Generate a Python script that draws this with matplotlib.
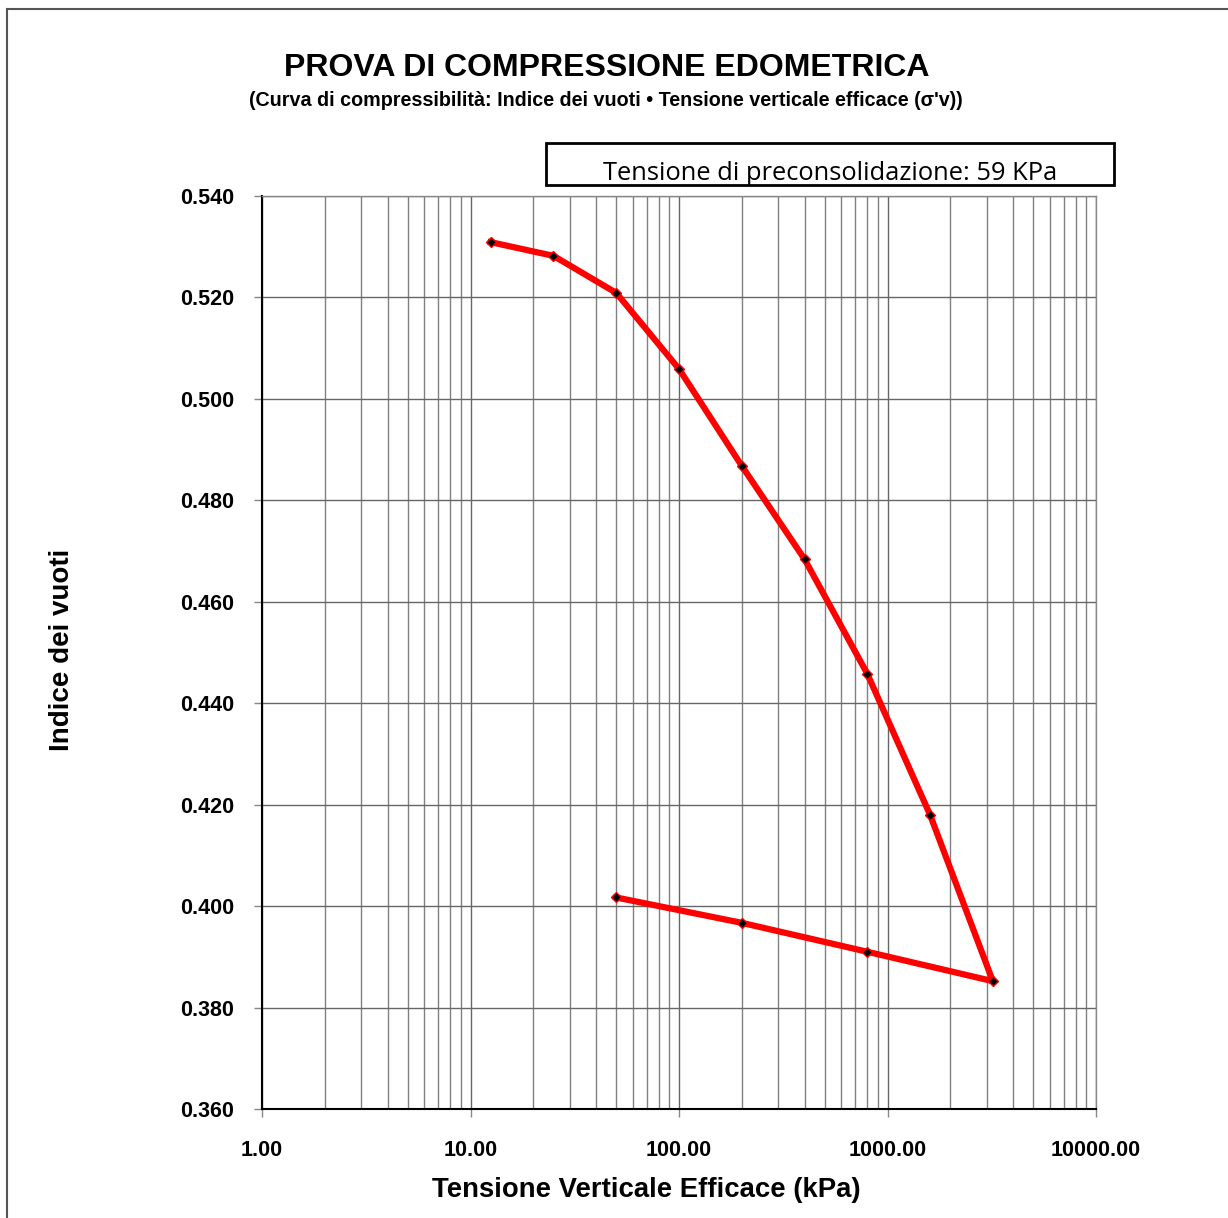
import matplotlib.pyplot as plt
from matplotlib.ticker import LogLocator, FixedLocator, NullFormatter
from matplotlib.patches import Rectangle

# loading branch then unloading branch (kPa, void ratio)
tensione = [12.5, 25, 50, 100, 200, 400, 800, 1600, 3200, 800, 200, 50]
indice_vuoti = [0.5309, 0.5282, 0.5209, 0.5059, 0.4868, 0.4684, 0.4458, 0.4180,
                0.3852, 0.3910, 0.3967, 0.4017]
y_ticks = [0.360, 0.380, 0.400, 0.420, 0.440, 0.460, 0.480, 0.500, 0.520, 0.540]
x_ticks = [1, 10, 100, 1000, 10000]
x_labels = ['1.00', '10.00', '100.00', '1000.00', '10000.00']

plt.rcParams['font.family'] = ['Liberation Sans', 'DejaVu Sans']

fig = plt.figure(figsize=(12.28, 12.18), dpi=100)
W, H = 1228, 1218
ax = fig.add_axes([262 / W, 1 - 1109 / H, (1096 - 262) / W, (1109 - 196) / H])

ax.plot(tensione, indice_vuoti, color='#ff0000', lw=4.5, marker='D', markersize=5,
        markerfacecolor='black', markeredgecolor='#ff0000', markeredgewidth=1, zorder=3)

ax.set_xscale('log')
ax.set_xlim(1, 10000)
ax.set_ylim(0.36, 0.54)
ax.xaxis.set_major_locator(FixedLocator(x_ticks))
ax.set_xticklabels(x_labels)
ax.xaxis.set_minor_locator(LogLocator(base=10, subs=range(2, 10)))
ax.xaxis.set_minor_formatter(NullFormatter())
ax.set_yticks(y_ticks)
ax.set_yticklabels([f'{v:.3f}' for v in y_ticks])

ax.grid(True, which='major', color='#666666', lw=1)
ax.grid(True, which='minor', axis='x', color='#808080', lw=1)
ax.set_axisbelow(True)
ax.tick_params(axis='both', which='major', length=6, width=1, colors='#888888',
               labelcolor='black', labelsize=15.5)
ax.tick_params(axis='x', which='major', pad=16)
ax.tick_params(axis='y', which='major', pad=14)
ax.tick_params(axis='x', which='minor', length=0)
for lab in ax.get_xticklabels() + ax.get_yticklabels():
    lab.set_fontweight('bold')
for s in ['left', 'bottom']:
    ax.spines[s].set_color('black')
    ax.spines[s].set_linewidth(1.5)
for s in ['top', 'right']:
    ax.spines[s].set_color('#888888')
    ax.spines[s].set_linewidth(1)

fig.text(62 / W, 1 - 650 / H, 'Indice dei vuoti', rotation=90, ha='center', va='center',
         fontsize=20, fontweight='bold')
fig.text(646 / W, 1 - 1190 / H, 'Tensione Verticale Efficace (kPa)', ha='center', va='center',
         fontsize=19.8, fontweight='bold')

fig.text(607 / W, 1 - 68 / H, 'PROVA DI COMPRESSIONE EDOMETRICA', ha='center', va='center',
         fontsize=23, fontweight='bold')
fig.text(606 / W, 1 - 101 / H,
         "(Curva di compressibilità: Indice dei vuoti \u2022 Tensione verticale efficace (\u03c3'v))",
         ha='center', va='center', fontsize=14.2, fontweight='bold',
         family=['Liberation Sans Narrow', 'Liberation Sans', 'DejaVu Sans'])

# text box with preconsolidation stress
fig.patches.append(Rectangle((546 / W, 1 - 185 / H), (1114 - 546) / W, (185 - 143) / H,
                             transform=fig.transFigure, fill=False, edgecolor='black', lw=2))
fig.text(830 / W, 1 - 173 / H, 'Tensione di preconsolidazione: 59 KPa', ha='center',
         va='center', fontsize=18.4, family=['Open Sans', 'DejaVu Sans'])

# outer chart border
fig.patches.append(Rectangle((7 / W, -0.01), 1.0, 1 - 9 / H + 0.01, transform=fig.transFigure,
                             fill=False, edgecolor='#555555', lw=1.5))

fig.savefig('out.png', dpi=100, facecolor='white')
